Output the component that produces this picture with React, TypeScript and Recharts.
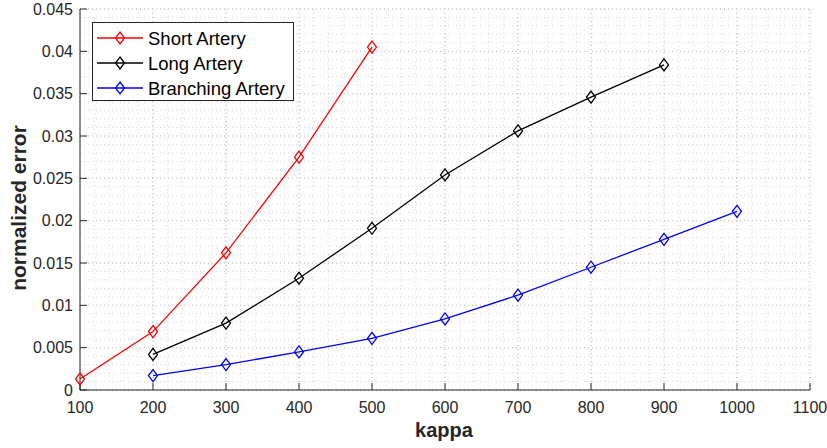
import { LineChart, Line, XAxis, YAxis, CartesianGrid, Legend, Label } from 'recharts';

const FONT = '"Liberation Sans", Arial, Helvetica, sans-serif';
const AXIS = '#262626';

// kappa values and normalized error per artery
const kappaShort = [100, 200, 300, 400, 500];
const errShort = [0.0013, 0.0069, 0.0162, 0.0275, 0.0405];

const kappaLong = [200, 300, 400, 500, 600, 700, 800, 900];
const errLong = [0.0042, 0.0079, 0.0132, 0.0191, 0.0254, 0.0306, 0.0346, 0.0384];

const kappaBranch = [200, 300, 400, 500, 600, 700, 800, 900, 1000];
const errBranch = [0.0017, 0.003, 0.0045, 0.0061, 0.0084, 0.0112, 0.0145, 0.0178, 0.0211];

const xTicks = [100, 200, 300, 400, 500, 600, 700, 800, 900, 1000, 1100];
const yTicks = [0, 0.005, 0.01, 0.015, 0.02, 0.025, 0.03, 0.035, 0.04, 0.045];

const seriesNames = ['Short Artery', 'Long Artery', 'Branching Artery'];
const seriesColors = ['#ff0000', '#000000', '#0000ff'];

// minor grid: 5 subdivisions between major ticks
const minorX: number[] = [];
for (let i = 0; i <= 50; i++) minorX.push(100 + i * 20);
const minorY: number[] = [];
for (let i = 0; i <= 45; i++) minorY.push(i / 1000);

const toRows = (xs: number[], ys: number[]) => xs.map((k, i) => ({ kappa: k, err: ys[i] }));
const shortData = toRows(kappaShort, errShort);
const longData = toRows(kappaLong, errLong);
const branchData = toRows(kappaBranch, errBranch);

const diamond = (cx: number, cy: number, color: string, key?: string | number) => (
  <path
    key={key}
    d={`M${cx},${cy - 6} L${cx + 4.5},${cy} L${cx},${cy + 6} L${cx - 4.5},${cy} Z`}
    fill="none"
    stroke={color}
    strokeWidth={1.3}
  />
);

const makeDot = (color: string) => (p: any) => diamond(p.cx, p.cy, color, p.key ?? `${p.cx}-${p.cy}`);

const fmtY = (v: number) => (v === 0 ? '0' : String(v));

const LegendBox = () => (
  <svg width={202} height={79} style={{ display: 'block' }}>
    <rect x={0.5} y={0.5} width={201} height={78} fill="#fff" stroke={AXIS} strokeWidth={1} />
    {seriesNames.map((name, i) => {
      const cy = 16 + i * 25;
      return (
        <g key={name}>
          <line x1={5} x2={51} y1={cy} y2={cy} stroke={seriesColors[i]} strokeWidth={1.3} />
          {diamond(28, cy, seriesColors[i])}
          <text x={56} y={cy + 6.5} fontSize={18.5} fontFamily={FONT} fill="#000">
            {name}
          </text>
        </g>
      );
    })}
  </svg>
);

export default function App() {
  return (
    <div style={{ position: 'absolute', left: 0, top: 0, width: 827, height: 448, background: '#fff' }}>
      <LineChart width={827} height={448} margin={{ top: 9, right: 17, left: 0, bottom: 0 }}>
        <CartesianGrid
          verticalValues={minorX}
          horizontalValues={minorY}
          stroke="#d6d6d6"
          strokeDasharray="1 3"
          strokeWidth={1}
        />
        <CartesianGrid
          verticalValues={xTicks}
          horizontalValues={yTicks}
          stroke="#c0c0c0"
          strokeDasharray="1 3"
          strokeWidth={1}
        />
        <XAxis
          type="number"
          dataKey="kappa"
          domain={[100, 1100]}
          ticks={xTicks}
          interval={0}
          height={58}
          allowDuplicatedCategory={false}
          stroke={AXIS}
          tickSize={-7}
          tickMargin={19}
          tick={{ fill: AXIS, fontSize: 16, fontFamily: FONT }}
        >
          <Label
            content={(props: any) => {
              const vb = props.viewBox;
              return (
                <text
                  x={vb.x + vb.width / 2 - 1}
                  y={vb.y + 47}
                  textAnchor="middle"
                  fontSize={20}
                  fontWeight="bold"
                  fontFamily={FONT}
                  fill={AXIS}
                >
                  kappa
                </text>
              );
            }}
          />
        </XAxis>
        <YAxis
          type="number"
          domain={[0, 0.045]}
          ticks={yTicks}
          interval={0}
          width={80}
          stroke={AXIS}
          tickSize={-7}
          tickMargin={14}
          tickFormatter={fmtY}
          tick={{ fill: AXIS, fontSize: 16, fontFamily: FONT }}
        >
          <Label
            content={(props: any) => {
              const vb = props.viewBox;
              const x = vb.x + 18;
              const y = vb.y + vb.height / 2 + 8.5;
              return (
                <text
                  x={x}
                  y={y}
                  transform={`rotate(-90, ${x}, ${y})`}
                  textAnchor="middle"
                  dominantBaseline="central"
                  fontSize={21}
                  fontWeight="bold"
                  fontFamily={FONT}
                  fill={AXIS}
                >
                  normalized error
                </text>
              );
            }}
          />
        </YAxis>
        <Line
          data={shortData}
          dataKey="err"
          name={seriesNames[0]}
          stroke={seriesColors[0]}
          strokeWidth={1.3}
          dot={makeDot(seriesColors[0])}
          activeDot={false}
          isAnimationActive={false}
        />
        <Line
          data={longData}
          dataKey="err"
          name={seriesNames[1]}
          stroke={seriesColors[1]}
          strokeWidth={1.3}
          dot={makeDot(seriesColors[1])}
          activeDot={false}
          isAnimationActive={false}
        />
        <Line
          data={branchData}
          dataKey="err"
          name={seriesNames[2]}
          stroke={seriesColors[2]}
          strokeWidth={1.3}
          dot={makeDot(seriesColors[2])}
          activeDot={false}
          isAnimationActive={false}
        />
        <Legend
          layout="vertical"
          align="center"
          verticalAlign="middle"
          wrapperStyle={{ left: 92, top: 22, width: 202, height: 79 }}
          content={() => <LegendBox />}
        />
      </LineChart>
    </div>
  );
}
